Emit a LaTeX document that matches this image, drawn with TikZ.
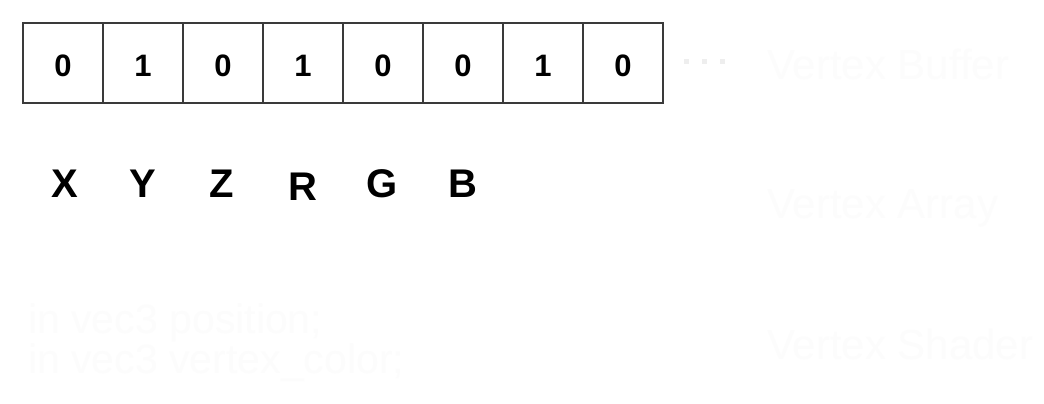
\documentclass[tikz,border=0pt]{standalone}
\usepackage{fontspec}
\setmainfont{Liberation Sans}
\definecolor{cellline}{HTML}{3A3A3A}
\definecolor{faint}{HTML}{FCFCFC}
\definecolor{dotcol}{HTML}{EEEEEE}
\begin{document}
\begin{tikzpicture}[x=1pt,y=-1pt,
  cell/.style={draw=cellline,line width=1.6pt,minimum width=80pt,minimum height=80pt,inner sep=0pt,
    text=black},
  digit/.style={anchor=base,inner sep=0pt,font=\fontsize{31}{36}\selectfont\bfseries,text=black},
  lbl/.style={anchor=base,inner sep=0pt,font=\fontsize{40}{48}\selectfont\bfseries,text=black},
  ghost/.style={anchor=base west,inner sep=0pt,text=faint,font=\fontsize{42}{48}\selectfont}]
\useasboundingbox[fill=white] (0,0) rectangle (1044,404);
\foreach \v [count=\i] in {0,1,0,1,0,0,1,0}{
  \node[cell] (c\i) at ({23+80*\i-40},63) {};
  \node[digit] (t\i) at ({23+80*\i-40},76.5) {\v};
}
\node[lbl] (lx) at (65,197) {X};
\node[lbl] (ly) at (143,197) {Y};
\node[lbl] (lz) at (222,197) {Z};
\node[lbl] (lr) at (303,200) {R};
\node[lbl] (lg) at (382,197) {G};
\node[lbl] (lb) at (463,197) {B};
\coordinate (d1) at (684,62);
\coordinate (d2) at (728,62);
\draw[dotcol,line width=5pt,dash pattern=on 5pt off 13pt] (d1) -- (d2);
\node[ghost] (vb) at (767,80) {Vertex Buffer};
\node[ghost] (va) at (767,218) {Vertex Array};
\node[ghost] (vs) at (767,359) {Vertex Shader};
\node[ghost,align=left,font=\fontsize{41}{37}\selectfont] (code) at (28,373)
  {in vec3 position;\\in vec3 vertex\_color;};
\end{tikzpicture}
\end{document}
